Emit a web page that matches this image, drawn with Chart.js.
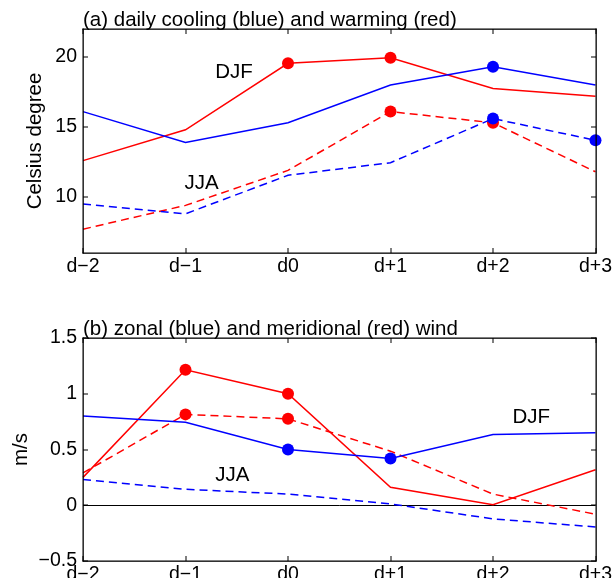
<!DOCTYPE html>
<html>
<head>
<meta charset="utf-8">
<script src="https://cdn.jsdelivr.net/npm/chart.js@4"></script>
<style>
  html, body { margin: 0; padding: 0; width: 615px; height: 578px; overflow: hidden; background: #fff; }
  .panel { position: absolute; left: 0; width: 615px; }
</style>
</head>
<body>
<div class="panel" style="top:0;height:290px"><canvas id="chartA"></canvas></div>
<div class="panel" style="top:290px;height:300px"><canvas id="chartB"></canvas></div>
<script>
const days = ['d−2', 'd−1', 'd0', 'd+1', 'd+2', 'd+3'];

// (a) daily cooling (blue) and warming (red), Celsius degree
const coolDJF = [16.1, 13.9, 15.3, 18.0, 19.3, 18.0];
const warmDJF = [12.6, 14.8, 19.55, 19.95, 17.75, 17.2];
const coolJJA = [9.5, 8.8, 11.55, 12.45, 15.6, 14.05];
const warmJJA = [7.7, 9.4, 11.9, 16.1, 15.3, 11.8];
// 1 = significant (dot)
const coolDJFsig = [0, 0, 0, 0, 1, 0];
const warmDJFsig = [0, 0, 1, 1, 0, 0];
const coolJJAsig = [0, 0, 0, 0, 1, 1];
const warmJJAsig = [0, 0, 0, 1, 1, 0];
const ticksA = [10, 15, 20];

// (b) zonal (blue) and meridional (red) wind, m/s
const zonalDJF = [0.80, 0.745, 0.50, 0.42, 0.635, 0.65];
const meridDJF = [0.25, 1.215, 1.0, 0.162, 0.005, 0.318];
const zonalJJA = [0.23, 0.143, 0.10, 0.012, -0.122, -0.195];
const meridJJA = [0.29, 0.815, 0.775, 0.485, 0.10, -0.08];
const zonalDJFsig = [0, 0, 1, 1, 0, 0];
const meridDJFsig = [0, 1, 1, 0, 0, 0];
const zonalJJAsig = [0, 0, 0, 0, 0, 0];
const meridJJAsig = [0, 1, 1, 0, 0, 0];
const ticksB = [-0.5, 0, 0.5, 1, 1.5];

const FONT = 'Liberation Sans, Arial, sans-serif';
const RED = '#ff0000';
const BLUE = '#0000ff';

function series(data, sig, color, dashed) {
  return {
    data: data,
    borderColor: color,
    backgroundColor: color,
    pointBackgroundColor: color,
    borderWidth: 1.5,
    borderDash: dashed ? [8, 5] : [],
    pointRadius: sig.map(s => s ? 6 : 0),
    pointBorderWidth: 0,
    pointHoverRadius: 0,
    tension: 0,
    clip: false
  };
}

// frame with inward ticks, panel title and DJF/JJA labels
const framePlugin = {
  id: 'frame',
  afterDraw(chart, args, opts) {
    const ctx = chart.ctx;
    const a = chart.chartArea;
    const x = chart.scales.x, y = chart.scales.y;
    const L = Math.round(a.left), R = Math.round(a.right);
    const T = Math.round(a.top), B = Math.round(a.bottom);
    ctx.save();
    ctx.globalAlpha = 1;
    ctx.fillStyle = '#000';
    // box
    ctx.fillRect(L - 0.5, T - 0.5, R - L + 1, 1.3);
    ctx.fillRect(L - 0.5, B - 0.5, R - L + 1, 1.3);
    ctx.fillRect(L - 0.5, T - 0.5, 1.3, B - T + 1);
    ctx.fillRect(R - 0.5, T - 0.5, 1.3, B - T + 1);
    // inward ticks
    x.ticks.forEach((t, i) => {
      const px = Math.round(x.getPixelForTick(i));
      ctx.fillRect(px - 0.5, B - 5, 1, 5);
      ctx.fillRect(px - 0.5, T, 1, 5);
    });
    y.ticks.forEach(t => {
      const py = Math.round(y.getPixelForValue(t.value));
      ctx.fillRect(L, py - 0.5, 5, 1);
      ctx.fillRect(R - 5, py - 0.5, 5, 1);
    });

    ctx.font = '20.5px ' + FONT;
    ctx.textAlign = 'left';
    ctx.textBaseline = 'alphabetic';
    ctx.fillText(opts.title, a.left, a.top - 3);

    ctx.textBaseline = 'middle';
    opts.notes.forEach(n => {
      const px = x.left + (x.right - x.left) * n.at / (days.length - 1);
      ctx.fillText(n.text, px, y.getPixelForValue(n.value));
    });
    ctx.restore();
  }
};

function makePanel(id, cfg) {
  new Chart(document.getElementById(id), {
    type: 'line',
    data: { labels: days, datasets: cfg.datasets },
    plugins: [framePlugin],
    options: {
      responsive: true,
      maintainAspectRatio: false,
      animation: false,
      events: [],
      layout: { padding: { top: cfg.top, left: 0, right: 19.5, bottom: 0 } },
      plugins: {
        legend: { display: false },
        tooltip: { enabled: false },
        frame: { title: cfg.title, notes: cfg.notes }
      },
      scales: {
        x: {
          offset: false,
          grid: { display: false, drawTicks: false },
          border: { display: false },
          ticks: { color: '#000', font: { family: FONT, size: 19.5 }, padding: 2,
                   autoSkip: false, maxRotation: 0, minRotation: 0 },
          afterFit: s => { s.height = cfg.xHeight; }
        },
        y: {
          min: cfg.min,
          max: cfg.max,
          grid: cfg.zeroLine
            ? { drawTicks: false, lineWidth: 1,
                color: c => c.tick && c.tick.value === 0 ? '#000' : 'rgba(0,0,0,0)' }
            : { display: false, drawTicks: false },
          border: { display: false },
          ticks: { color: '#000', font: { family: FONT, size: 19.5 }, padding: 6,
                   callback: v => String(v).replace('-', '−') },
          afterBuildTicks: s => { s.ticks = cfg.ticks.map(v => ({ value: v })); },
          title: { display: true, text: cfg.yTitle, color: '#000',
                   font: { family: FONT, size: 20.5 }, padding: { top: cfg.yTitlePad, bottom: 0 } },
          afterFit: s => { s.width = 83; }
        }
      }
    }
  });
}

// first dataset is drawn on top, so blue goes first
makePanel('chartA', {
  title: '(a) daily cooling (blue) and warming (red)',
  yTitle: 'Celsius degree',
  yTitlePad: 23.5,
  top: 29,
  xHeight: 37,
  min: 6, max: 22,
  ticks: ticksA,
  zeroLine: false,
  notes: [{ text: 'DJF', at: 1.29, value: 18.93 }, { text: 'JJA', at: 0.99, value: 11.0 }],
  datasets: [
    series(coolDJF, coolDJFsig, BLUE, false),
    series(coolJJA, coolJJAsig, BLUE, true),
    series(warmDJF, warmDJFsig, RED, false),
    series(warmJJA, warmJJAsig, RED, true)
  ]
});

makePanel('chartB', {
  title: '(b) zonal (blue) and meridional (red) wind',
  yTitle: 'm/s',
  yTitlePad: 9,
  top: 48,
  xHeight: 29,
  min: -0.5, max: 1.5,
  ticks: ticksB,
  zeroLine: true,
  notes: [{ text: 'DJF', at: 4.19, value: 0.79 }, { text: 'JJA', at: 1.29, value: 0.27 }],
  datasets: [
    series(zonalDJF, zonalDJFsig, BLUE, false),
    series(zonalJJA, zonalJJAsig, BLUE, true),
    series(meridDJF, meridDJFsig, RED, false),
    series(meridJJA, meridJJAsig, RED, true)
  ]
});
</script>
</body>
</html>
